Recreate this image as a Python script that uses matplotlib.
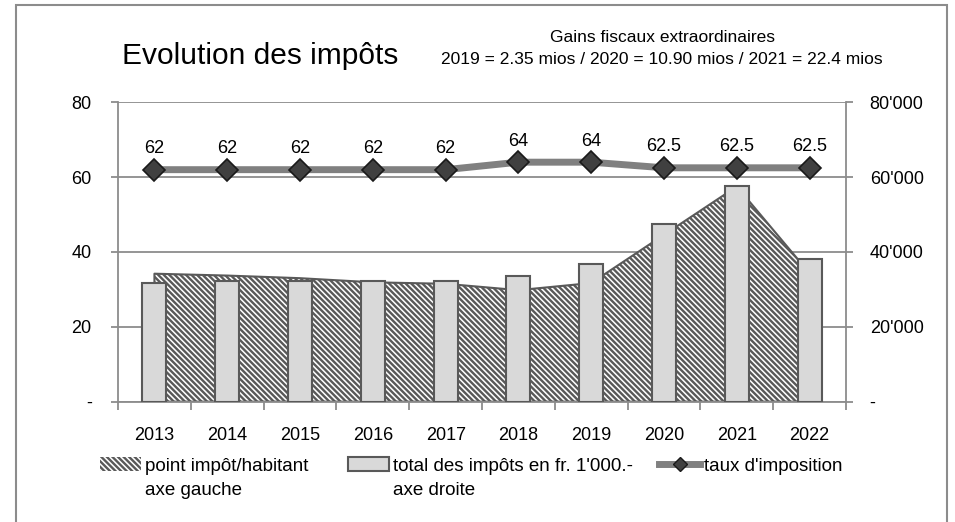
import numpy as np
import matplotlib
matplotlib.use("Agg")
import matplotlib.pyplot as plt
from matplotlib.patches import Rectangle, Patch
from matplotlib.lines import Line2D
from matplotlib.ticker import FuncFormatter, FixedLocator
from matplotlib.transforms import IdentityTransform

plt.rcParams['font.family'] = ['Liberation Sans', 'DejaVu Sans']
plt.rcParams['hatch.linewidth'] = 1.7
plt.rcParams['hatch.color'] = '#595959'

# données
years = ['2013', '2014', '2015', '2016', '2017', '2018', '2019', '2020', '2021', '2022']
point_habitant = [34.2, 33.7, 33.0, 31.9, 31.5, 29.8, 31.7, 44.6, 57.5, 34.3]      # axe gauche
total_impots = [31700, 32300, 32300, 32200, 32300, 33600, 36800, 47500, 57600, 38000]  # axe droite
taux = [62, 62, 62, 62, 62, 64, 64, 62.5, 62.5, 62.5]

grey = '#8c8c8c'
dark = '#595959'
hatch = '\\' * 6

fig = plt.figure(figsize=(9.55, 5.22), dpi=100)
ax = fig.add_axes([0.1236, 0.2305, 0.7623, 0.5735])
x = np.arange(len(years))

# surface hachurée (point impôt/habitant)
ax.fill_between(x, point_habitant, facecolor='white', edgecolor=dark,
                hatch=hatch, linewidth=1.5, zorder=2)
ax.set_xlim(-0.5, len(years) - 0.5)
ax.set_ylim(0, 80)
ax.set_yticks([0, 20, 40, 60, 80])
ax.set_yticklabels(['-', '20', '40', '60', '80'])
ax.yaxis.grid(True, color=grey, lw=1.3)
ax.set_axisbelow(True)
ax.xaxis.set_major_locator(FixedLocator(np.arange(-0.5, len(years), 1)))
ax.xaxis.set_major_formatter(FuncFormatter(lambda v, p: ''))
ax.set_xticks(x, minor=True)
ax.set_xticklabels(years, minor=True)
ax.tick_params(axis='x', which='major', direction='out', length=6, width=1.3, color=grey)
ax.tick_params(axis='x', which='minor', length=0, pad=18, labelsize=13)
ax.tick_params(axis='y', direction='out', length=5, width=1.3, color=grey, pad=14, labelsize=13)
for s in ['top', 'right']:
    ax.spines[s].set_visible(False)
for s in ['left', 'bottom']:
    ax.spines[s].set_color(grey)
    ax.spines[s].set_linewidth(1.3)

# barres (total des impôts)
ax2 = ax.twinx()
ax2.bar(x, total_impots, width=0.33, color='#d9d9d9', edgecolor=dark, linewidth=1.5)
ax2.set_ylim(0, 80000)
ax2.set_yticks([0, 20000, 40000, 60000, 80000])
ax2.yaxis.set_major_formatter(FuncFormatter(
    lambda v, p: '-' if v == 0 else f"{int(v):,}".replace(',', "'")))
ax2.tick_params(axis='y', direction='out', length=5, width=1.3, color=grey, pad=12, labelsize=13)
for s in ['top', 'left', 'bottom']:
    ax2.spines[s].set_visible(False)
ax2.spines['right'].set_color(grey)
ax2.spines['right'].set_linewidth(1.3)

# ligne taux d'imposition
ax3 = ax.twinx()
ax3.plot(x, taux, color='#808080', lw=5, marker='D', ms=11,
         mfc='#404040', mec='#1a1a1a', mew=1.2)
ax3.set_ylim(0, 80)
ax3.axis('off')
for xi, v in zip(x, taux):
    ax3.annotate('%g' % v, (xi, v), xytext=(0, 15), textcoords='offset points',
                 ha='center', va='center', fontsize=13)

# titres
fig.text(122 / 955, 1 - 56 / 522, 'Evolution des impôts', fontsize=21.5, ha='left', va='center')
fig.text(662 / 955, 1 - 37 / 522, 'Gains fiscaux extraordinaires', fontsize=12.5,
         ha='center', va='center')
fig.text(662 / 955, 1 - 60 / 522, '2019 = 2.35 mios / 2020 = 10.90 mios / 2021 = 22.4 mios',
         fontsize=12.5, ha='center', va='center')

# légende : trois entrées placées séparément
handles = [Patch(facecolor='white', edgecolor=dark, hatch=hatch, linewidth=0),
           Patch(facecolor='#d9d9d9', edgecolor=dark, linewidth=1.5),
           Line2D([], [], color='#808080', lw=5, marker='D', ms=7,
                  mfc='#404040', mec='#1a1a1a')]
labels = ['point impôt/habitant', "total des impôts en fr. 1'000.-", "taux d'imposition"]
seconds = ['axe gauche', 'axe droite', None]
starts = [100, 348, 659]
legs = []
for h, lab, x0 in zip(handles, labels, starts):
    lg = fig.legend([h], [lab], loc='center left', bbox_to_anchor=(x0 / 955, 1 - 466 / 522),
                    frameon=False, fontsize=13.5, handlelength=2.2, handleheight=0.75,
                    handletextpad=0.2, borderaxespad=0, borderpad=0)
    legs.append(lg)
fig.canvas.draw()
r = fig.canvas.get_renderer()
for lg, second in zip(legs, seconds):
    if second is None:
        continue
    bb = lg.get_texts()[0].get_window_extent(r)
    fig.text(bb.x0, bb.y0 - 7, second, transform=IdentityTransform(),
             fontsize=13.5, ha='left', va='top')

# cadre
fig.add_artist(Rectangle((16 / 955, -0.05), (947 - 16) / 955, 1.05 - 4.5 / 522,
                         transform=fig.transFigure, fill=False, edgecolor=grey, lw=1.5))

fig.savefig('out.png', dpi=100)
